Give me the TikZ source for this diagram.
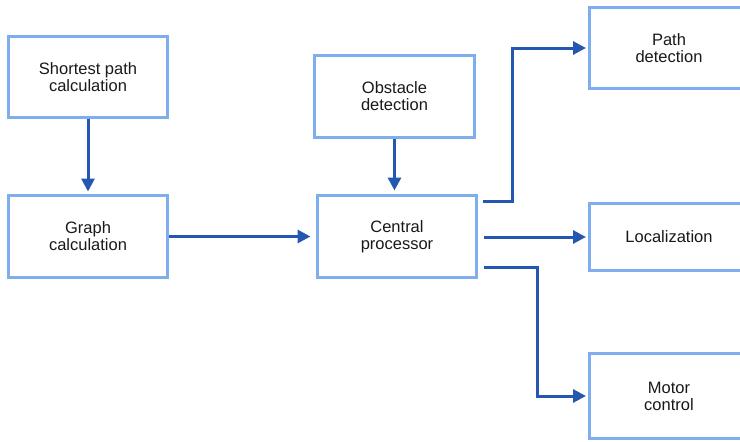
\documentclass[tikz,border=0pt]{standalone}
\usepackage{fontspec}
\setmainfont{Liberation Sans}
\usetikzlibrary{arrows.meta,calc}
\definecolor{boxblue}{RGB}{126,174,238}
\definecolor{arrblue}{RGB}{36,88,176}
\definecolor{txt}{RGB}{25,25,25}
\begin{document}
\begin{tikzpicture}[x=1pt,y=-1pt,
  box/.style={draw=boxblue,line width=3pt,fill=white,align=center,text=txt,
    font=\fontsize{16.5}{17}\selectfont,inner sep=0pt,minimum width=159pt},
  arr/.style={draw=arrblue,line width=3pt,-{Triangle[length=13pt,width=13pt]}}]
\useasboundingbox (0,0) rectangle (740,442);
\begin{scope}
\clip (0,0) rectangle (740,442);
\node[box,minimum height=81pt] (sp) at (88,77) {Shortest path\\calculation};
\node[box,minimum height=82pt] (gc) at (88,236.5) {Graph\\calculation};
\node[box,minimum height=82pt,minimum width=160pt] (od) at (394.5,96.5) {Obstacle\\detection};
\node[box,minimum height=82pt] (cp) at (397,236.5) {Central\\processor};
\node[box,minimum height=81pt] (pd) at (669,48) {Path\\detection};
\node[box,minimum height=67pt] (lo) at (669,237) {Localization};
\node[box,minimum height=85pt] (mc) at (669,396) {Motor\\control};
\end{scope}
\coordinate (o1) at (483,201);
\coordinate (b1) at (512,201);
\coordinate (o2) at (484,237);
\coordinate (o3) at (484,267);
\coordinate (b3) at (537,267);
\draw[arr,shorten >=2.5pt] (sp.south) -- (gc.north);
\draw[arr,shorten >=5.5pt] (gc.east) -- (gc.east -| cp.west);
\draw[arr,shorten >=3.5pt] (od.south) -- (od.south |- cp.north);
\draw[arr,shorten >=2pt] (o1) -- (b1) |- (pd.west);
\draw[arr,shorten >=2pt] (o2) -- (o2 -| lo.west);
\draw[arr,shorten >=2pt] (o3) -- (b3) |- (mc.west);
\end{tikzpicture}
\end{document}
